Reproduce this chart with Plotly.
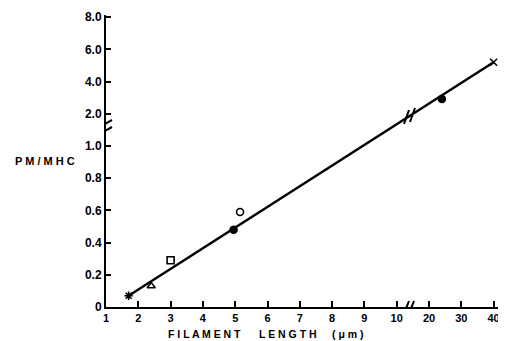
import plotly.graph_objects as go

# ---- data ----
x_values = [1.7, 2.4, 3.0, 4.95, 5.15, 24.0, 40.0]
y_values = [0.07, 0.13, 0.29, 0.48, 0.59, 2.92, 5.2]
symbols = ["asterisk-open", "triangle-up-open", "square-open", "circle",
           "circle-open", "circle", "x-thin-open"]
fit_x = [1.7, 40.0]
fit_y = [0.07, 5.2]
x_tick_values = [1, 2, 3, 4, 5, 6, 7, 8, 9, 10, 20, 30, 40]
x_tick_labels = ["1", "2", "3", "4", "5", "6", "7", "8", "9", "10", "20", "30", "40"]
y_tick_values = [0, 0.2, 0.4, 0.6, 0.8, 1.0, 2.0, 4.0, 6.0, 8.0]
y_tick_labels = ["0", "0.2", "0.4", "0.6", "0.8", "1.0", "2.0", "4.0", "6.0", "8.0"]


# broken-axis transforms (data -> plotting position)
def xpos(v):
    return v if v <= 10 else 10 + (v - 10) / 10.0


def ypos(v):
    return v / 0.2 if v <= 1.0 else 6 + (v - 2.0) / 2.0


FONT = "Liberation Sans, Arial, sans-serif"
OFF = 8  # page body margin in the viewer

# plot area in window pixels
L, R, T, B = 106, 504, 15, 307
W, H = 506 - OFF, 341 - OFF

fig = go.Figure()
fig.add_trace(go.Scatter(
    x=[xpos(v) for v in fit_x], y=[ypos(v) for v in fit_y],
    mode="lines", line=dict(color="black", width=2.5),
    hoverinfo="skip", showlegend=False))
fig.add_trace(go.Scatter(
    x=[xpos(v) for v in x_values], y=[ypos(v) for v in y_values],
    mode="markers",
    marker=dict(symbol=symbols, size=7, color="black",
                line=dict(color="black", width=1.6)),
    showlegend=False))


def px2x(px):
    return 1 + (px - 106) / 32.3


def px2y(py):
    return (307 - py) / 32.2


shapes = []
# break marks: y axis, x axis, fit line
for (x0, y0, x1, y1) in [
    (101, 126, 112, 120), (101, 133, 112, 127),     # y axis
    (405, 311, 409, 301), (410, 311, 414, 301),     # x axis
    (404, 124, 409, 110), (410, 122, 415, 108),     # fit line
]:
    shapes.append(dict(type="line", xref="x", yref="y",
                       x0=px2x(x0), y0=px2y(y0), x1=px2x(x1), y1=px2y(y1),
                       line=dict(color="black", width=2)))


def paper_x(px):
    return (px - L) / (R - L)


def paper_y(py):
    return (B - py) / (B - T)


xr = [1, px2x(R)]
yr = [0, px2y(T)]
xt = [xpos(v) for v in x_tick_values]
yt = [ypos(v) for v in y_tick_values]

title_font = dict(family=FONT, size=10.5, weight="bold")
annotations = [
    dict(text="P M / M H C", xref="paper", yref="paper", showarrow=False,
         x=paper_x(45), y=paper_y(161), xanchor="center", yanchor="middle",
         font=dict(family=FONT, size=11, weight="bold")),
]
for word, cx in [("F I L A M E N T", 204.5), ("L E N G T H", 287.5), ("( μ m )", 347.5)]:
    annotations.append(dict(text=word, xref="paper", yref="paper", showarrow=False,
                            x=paper_x(cx), y=paper_y(334), xanchor="center",
                            yanchor="middle", font=title_font))

fig.update_layout(
    width=W, height=H,
    margin=dict(l=L - OFF, r=W - (R - OFF), t=T - OFF, b=H - (B - OFF)),
    plot_bgcolor="white", paper_bgcolor="white",
    shapes=shapes,
    font=dict(family=FONT, size=11, color="black", weight="bold"),
    xaxis=dict(range=xr, showgrid=False, zeroline=False,
               showline=True, linecolor="black", linewidth=2,
               ticks="inside", ticklen=6, tickwidth=1.5, tickcolor="black",
               tickvals=xt, ticktext=x_tick_labels,
               tickfont=dict(family=FONT, size=11, weight="bold")),
    xaxis2=dict(range=xr, overlaying="x", side="bottom", anchor="y",
                showgrid=False, zeroline=False, showline=False,
                ticks="outside", ticklen=3, tickwidth=1.5, tickcolor="black",
                tickvals=xt, showticklabels=False),
    yaxis=dict(range=yr, showgrid=False, zeroline=False,
               showline=True, linecolor="black", linewidth=2,
               ticks="inside", ticklen=5, tickwidth=1.5, tickcolor="black",
               tickvals=yt, ticktext=y_tick_labels,
               tickfont=dict(family=FONT, size=12, weight="bold")),
    yaxis2=dict(range=yr, overlaying="y", side="left", anchor="x",
                showgrid=False, zeroline=False, showline=False,
                ticks="outside", ticklen=2, tickwidth=1.5, tickcolor="black",
                tickvals=yt, showticklabels=False),
    annotations=annotations,
)

fig.write_html("out.html")
